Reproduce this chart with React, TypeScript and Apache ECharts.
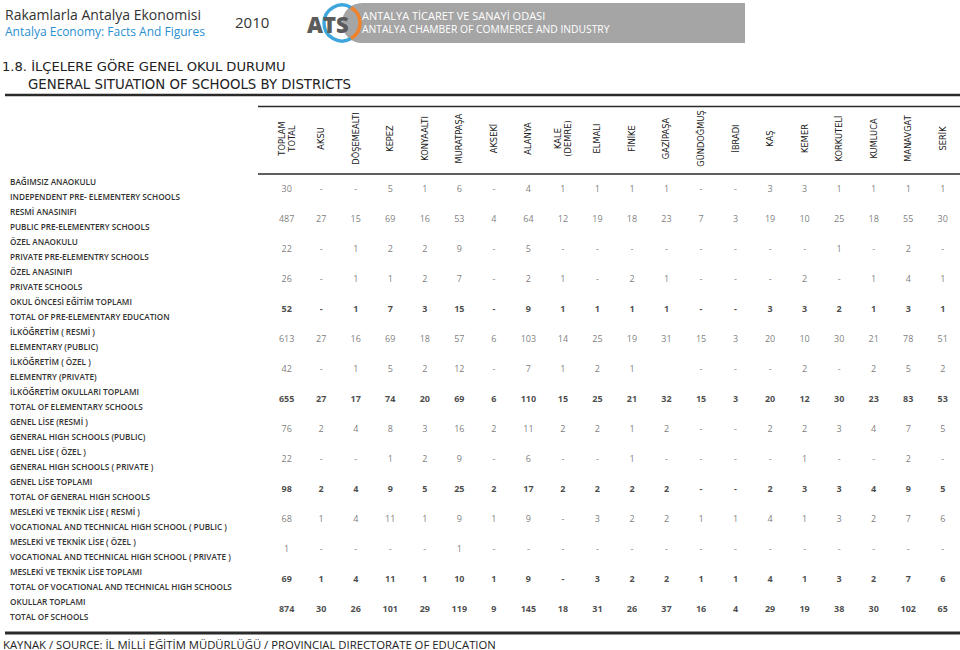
import React, { useEffect, useRef } from "react";
import * as echarts from "echarts";

const districts = [
  "TOPLAM\nTOTAL", "AKSU", "DÖŞEMEALTI", "KEPEZ", "KONYAALTI", "MURATPAŞA", "AKSEKİ", "ALANYA",
  "KALE\n(DEMRE)", "ELMALI", "FİNİKE", "GAZİPAŞA", "GÜNDOĞMUŞ", "İBRADI", "KAŞ", "KEMER",
  "KORKUTELİ", "KUMLUCA", "MANAVGAT", "SERİK",
];

const rowLabelsTr = [
  "BAĞIMSIZ ANAOKULU", "RESMİ ANASINIFI", "ÖZEL ANAOKULU", "ÖZEL ANASINIFI",
  "OKUL ÖNCESİ EĞİTİM TOPLAMI", "İLKÖĞRETİM ( RESMİ )", "İLKÖĞRETİM ( ÖZEL )",
  "İLKÖĞRETİM OKULLARI TOPLAMI", "GENEL LİSE (RESMİ )", "GENEL LİSE ( ÖZEL )",
  "GENEL LİSE TOPLAMI", "MESLEKİ VE TEKNİK LİSE ( RESMİ )", "MESLEKİ VE TEKNİK LİSE ( ÖZEL )",
  "MESLEKİ VE TEKNİK LİSE TOPLAMI", "OKULLAR TOPLAMI",
];

const rowLabelsEn = [
  "INDEPENDENT PRE- ELEMENTERY SCHOOLS", "PUBLIC PRE-ELEMENTERY SCHOOLS",
  "PRIVATE PRE-ELEMENTRY SCHOOLS", "PRIVATE SCHOOLS", "TOTAL OF PRE-ELEMENTARY EDUCATION",
  "ELEMENTARY (PUBLIC)", "ELEMENTRY (PRIVATE)", "TOTAL OF ELEMENTARY SCHOOLS",
  "GENERAL HIGH SCHOOLS (PUBLIC)", "GENERAL HIGH SCHOOLS ( PRIVATE )",
  "TOTAL OF GENERAL HIGH SCHOOLS", "VOCATIONAL AND TECHNICAL HIGH SCHOOL ( PUBLIC )",
  "VOCATIONAL AND TECHNICAL HIGH SCHOOL ( PRIVATE )",
  "TOTAL OF VOCATIONAL AND TECHNICAL HIGH SCHOOLS", "TOTAL OF SCHOOLS",
];

// 0 is shown as "-", null is an empty cell
const independentPre = [30, 0, 0, 5, 1, 6, 0, 4, 1, 1, 1, 1, 0, 0, 3, 3, 1, 1, 1, 1];
const publicPreClass = [487, 27, 15, 69, 16, 53, 4, 64, 12, 19, 18, 23, 7, 3, 19, 10, 25, 18, 55, 30];
const privatePre = [22, 0, 1, 2, 2, 9, 0, 5, 0, 0, 0, 0, 0, 0, 0, 0, 1, 0, 2, 0];
const privatePreClass = [26, 0, 1, 1, 2, 7, 0, 2, 1, 0, 2, 1, 0, 0, 0, 2, 0, 1, 4, 1];
const preTotal = [52, 0, 1, 7, 3, 15, 0, 9, 1, 1, 1, 1, 0, 0, 3, 3, 2, 1, 3, 1];
const elemPublic = [613, 27, 16, 69, 18, 57, 6, 103, 14, 25, 19, 31, 15, 3, 20, 10, 30, 21, 78, 51];
const elemPrivate = [42, 0, 1, 5, 2, 12, 0, 7, 1, 2, 1, null, 0, 0, 0, 2, 0, 2, 5, 2];
const elemTotal = [655, 27, 17, 74, 20, 69, 6, 110, 15, 25, 21, 32, 15, 3, 20, 12, 30, 23, 83, 53];
const highPublic = [76, 2, 4, 8, 3, 16, 2, 11, 2, 2, 1, 2, 0, 0, 2, 2, 3, 4, 7, 5];
const highPrivate = [22, 0, 0, 1, 2, 9, 0, 6, 0, 0, 1, 0, 0, 0, 0, 1, 0, 0, 2, 0];
const highTotal = [98, 2, 4, 9, 5, 25, 2, 17, 2, 2, 2, 2, 0, 0, 2, 3, 3, 4, 9, 5];
const vocPublic = [68, 1, 4, 11, 1, 9, 1, 9, 0, 3, 2, 2, 1, 1, 4, 1, 3, 2, 7, 6];
const vocPrivate = [1, 0, 0, 0, 0, 1, 0, 0, 0, 0, 0, 0, 0, 0, 0, 0, 0, 0, 0, 0];
const vocTotal = [69, 1, 4, 11, 1, 10, 1, 9, 0, 3, 2, 2, 1, 1, 4, 1, 3, 2, 7, 6];
const schoolsTotal = [874, 30, 26, 101, 29, 119, 9, 145, 18, 31, 26, 37, 16, 4, 29, 19, 38, 30, 102, 65];

const rows = [
  independentPre, publicPreClass, privatePre, privatePreClass, preTotal,
  elemPublic, elemPrivate, elemTotal, highPublic, highPrivate, highTotal,
  vocPublic, vocPrivate, vocTotal, schoolsTotal,
];
const totalRows = [4, 7, 10, 13, 14];

const FONT = "'Open Sans', sans-serif";
const WIDE = "'DejaVu Sans', sans-serif";

export default function App() {
  const ref = useRef<HTMLDivElement>(null);
  useEffect(() => {
    if (!ref.current) return;
    const chart = echarts.init(ref.current, null, { renderer: "svg" });
    const normal: any[] = [];
    const bold: any[] = [];
    rows.forEach((row, r) => {
      row.forEach((v, c) => {
        if (v === null) return;
        (totalRows.includes(r) ? bold : normal).push([c, r, v]);
      });
    });
    const labelFmt = (p: any) => (p.value[2] === 0 ? "-" : String(p.value[2]));
    const cellSeries = (data: any[], isBold: boolean) => ({
      type: "scatter",
      data,
      symbol: "circle",
      symbolSize: 1,
      itemStyle: { color: "rgba(0,0,0,0)" },
      silent: true,
      label: {
        show: true,
        position: "inside",
        formatter: labelFmt,
        fontFamily: FONT,
        fontSize: 9,
        fontWeight: isBold ? 700 : 400,
        color: isBold ? "#1a1a1a" : "#5a5a5a",
      },
    });
    const txt = (x: number, y: number, text: string, size: number, color: string, weight: any = 400, family = FONT) => ({
      type: "text",
      x,
      y,
      style: { text, fill: color, font: `${weight} ${size}px ${family}`, textAlign: "left", textVerticalAlign: "middle", verticalAlign: "middle" },
    });
    const ln = (x1: number, y: number, x2: number, w: number) => ({
      type: "line",
      shape: { x1, y1: y, x2, y2: y },
      style: { stroke: "#2a2a2a", lineWidth: w },
    });
    chart.setOption({
      animation: false,
      backgroundColor: "#fff",
      grid: { left: 269.4, top: 173.5, width: 703.2, height: 450 },
      xAxis: {
        type: "category",
        position: "top",
        data: districts,
        axisLine: { show: false },
        axisTick: { show: false },
        splitLine: { show: false },
        axisLabel: {
          interval: 0,
          rotate: -90,
          align: "center",
          verticalAlign: "middle",
          margin: 35,
          fontFamily: WIDE,
          fontSize: 8.3,
          fontWeight: 400,
          lineHeight: 10,
          color: "#222",
          hideOverlap: false,
        },
      },
      yAxis: {
        type: "category",
        inverse: true,
        data: rowLabelsTr.map((t, i) => t + "\n" + rowLabelsEn[i]),
        axisLine: { show: false },
        axisTick: { show: false },
        splitLine: { show: false },
        axisLabel: {
          interval: 0,
          align: "left",
          margin: 259.4,
          fontFamily: FONT,
          fontSize: 8.2,
          fontWeight: 600,
          lineHeight: 15,
          color: "#333",
        },
      },
      series: [cellSeries(normal, false), cellSeries(bold, true)],
      graphic: [
        txt(5, 14, "Rakamlarla Antalya Ekonomisi", 14, "#333"),
        txt(5, 31.5, "Antalya Economy: Facts And Figures", 12, "#2a90d0"),
        txt(235, 22, "2010", 15, "#333"),
        {
          type: "rect",
          shape: { x: 342, y: 3, width: 403, height: 40, r: [20, 0, 0, 20] },
          style: { fill: "#a5a5a5" },
        },
        {
          type: "arc",
          shape: { cx: 342, cy: 23, r: 18, startAngle: Math.PI / 3, endAngle: (5 * Math.PI) / 3, clockwise: true },
          style: { stroke: "#3ea6dc", lineWidth: 3.5, fill: "none" },
        },
        {
          type: "arc",
          shape: { cx: 342, cy: 23, r: 18, startAngle: -Math.PI / 3, endAngle: Math.PI / 3, clockwise: true },
          style: { stroke: "#f0822a", lineWidth: 3.5, fill: "none" },
        },
        txt(307, 24, "ATS", 22, "#5b5b5b", 800),
        txt(362, 15.5, "ANTALYA TİCARET VE SANAYİ ODASI", 11, "#fff"),
        txt(362, 29, "ANTALYA CHAMBER OF COMMERCE AND INDUSTRY", 10.3, "#fff"),
        txt(2, 66, "1.8. İLÇELERE GÖRE GENEL OKUL DURUMU", 13.1, "#222", 400, WIDE),
        txt(28, 84, "GENERAL SITUATION OF SCHOOLS BY DISTRICTS", 13.3, "#222", 400, WIDE),
        ln(5, 95, 960, 2.5),
        ln(258, 106.5, 960, 1.5),
        ln(258, 174, 960, 1.5),
        ln(5, 633, 960, 3),
        txt(3, 644, "KAYNAK / SOURCE: İL MİLLİ EĞİTİM MÜDÜRLÜĞÜ / PROVINCIAL DIRECTORATE OF EDUCATION", 11.3, "#222"),
      ],
    });
    return () => chart.dispose();
  }, []);
  return <div ref={ref} style={{ position: "absolute", left: 0, top: 0, width: 960, height: 650 }} />;
}
